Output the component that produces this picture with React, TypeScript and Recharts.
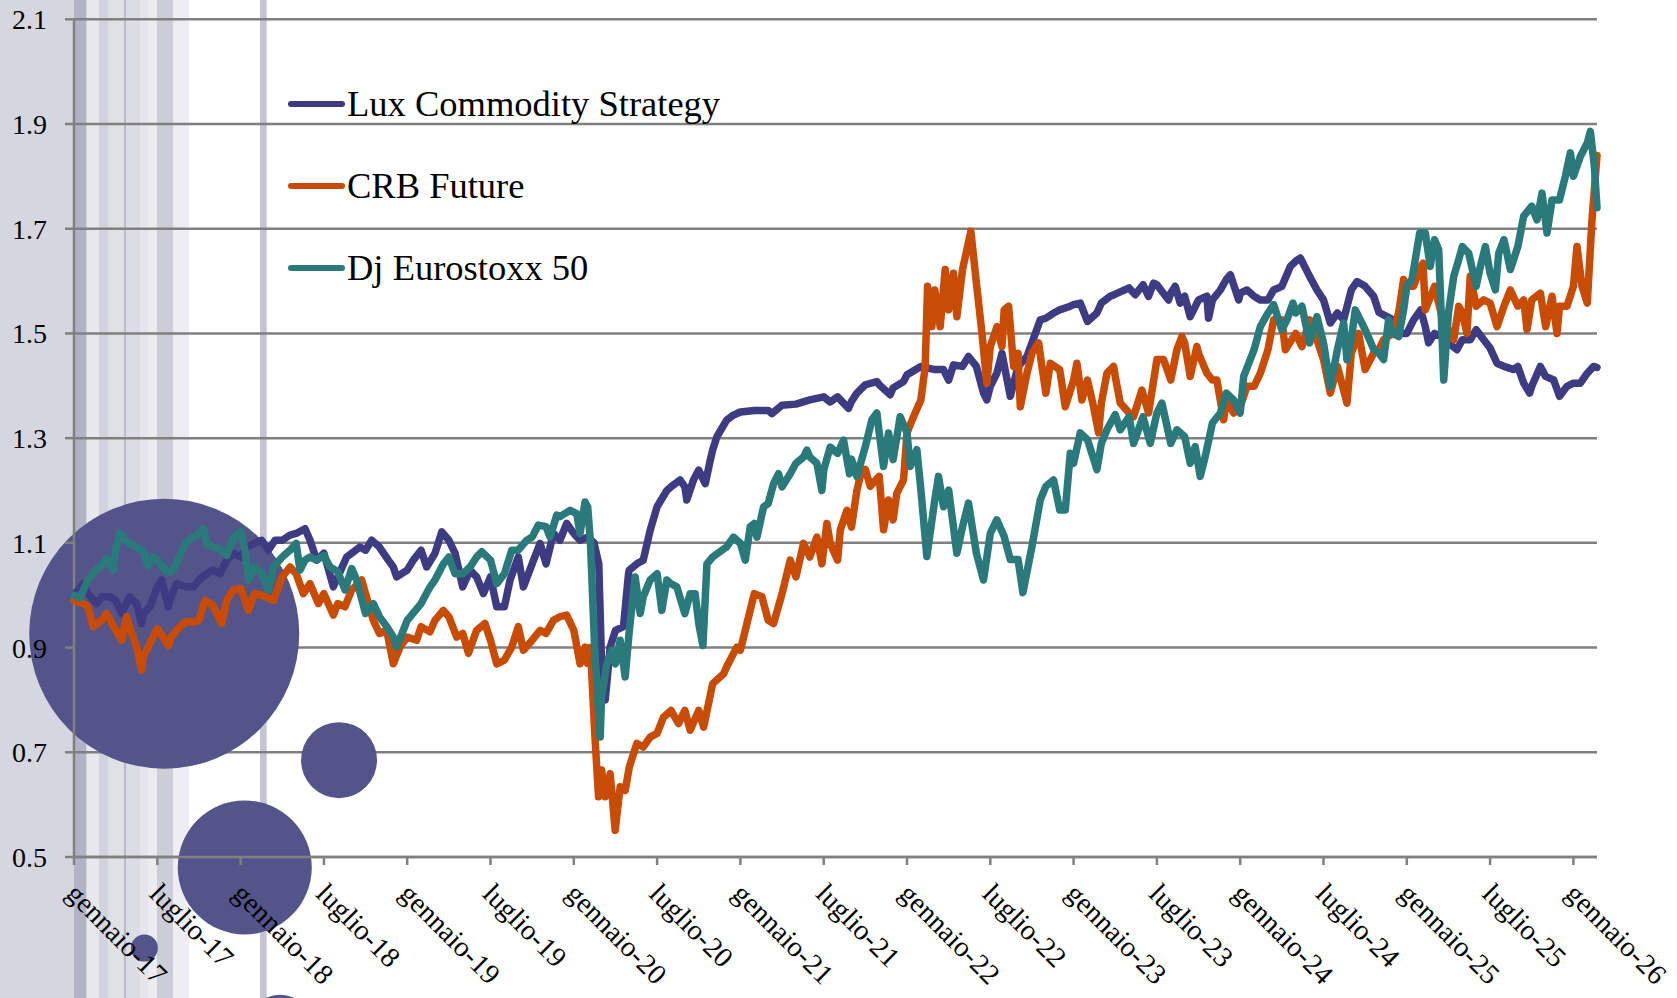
import React from 'react';
import {
  ComposedChart,
  Line,
  XAxis,
  YAxis,
  CartesianGrid,
  ReferenceArea,
  ReferenceDot,
  Legend,
} from 'recharts';

// ---------- DATA ----------
// x = months since gennaio-17
const tickMonths = [0, 6, 12, 18, 24, 30, 36, 42, 48, 54, 60, 66, 72, 78, 84, 90, 96, 102, 108];
const tickLabels = [
  'gennaio-17', 'luglio-17', 'gennaio-18', 'luglio-18', 'gennaio-19', 'luglio-19',
  'gennaio-20', 'luglio-20', 'gennaio-21', 'luglio-21', 'gennaio-22', 'luglio-22',
  'gennaio-23', 'luglio-23', 'gennaio-24', 'luglio-24', 'gennaio-25', 'luglio-25', 'gennaio-26',
];
const yTicks = [0.5, 0.7, 0.9, 1.1, 1.3, 1.5, 1.7, 1.9, 2.1];

const seriesNames = ['Lux Commodity Strategy', 'CRB Future', 'Dj Eurostoxx 50'];

const luxSeries: [number, number][] = [
  [0, 1.0], [0.67, 1.022], [1, 1.003], [1.63, 0.984], [2, 0.997], [2.59, 0.997], [3, 0.99], [3.43, 0.965],
  [4, 0.997], [4.51, 0.984], [4.87, 0.946], [5, 0.965], [5.47, 0.978], [6, 1.016], [6.31, 1.029], [6.79, 0.978],
  [7, 0.997], [7.39, 1.022], [8, 1.016], [8.6, 1.016], [9, 1.029], [9.56, 1.041], [10, 1.048], [10.52, 1.041],
  [11, 1.067], [11.48, 1.08], [12, 1.073], [12.44, 1.092], [13, 1.099], [13.52, 1.105], [14, 1.086], [14.48, 1.105],
  [15, 1.105], [15.56, 1.115], [16, 1.118], [16.64, 1.127], [17, 1.105], [17.48, 1.067], [18, 1.08], [18.68, 1.016],
  [19, 1.035], [19.64, 1.073], [20, 1.08], [20.6, 1.092], [21, 1.086], [21.44, 1.105], [22, 1.092], [22.64, 1.067],
  [23, 1.054], [23.24, 1.035], [24, 1.048], [24.44, 1.067], [25, 1.086], [25.4, 1.054], [26, 1.08], [26.49, 1.121],
  [27, 1.105], [27.45, 1.08], [28, 1.016], [28.53, 1.048], [29, 1.035], [29.49, 1.003], [30, 1.035], [30.45, 0.978],
  [31, 0.978], [31.41, 1.029], [32, 1.073], [32.37, 1.016], [33, 1.06], [33.57, 1.099], [34, 1.06], [34.53, 1.118],
  [35, 1.105], [35.49, 1.137], [36, 1.118], [36.45, 1.105], [37, 1.111], [37.45, 1.1], [37.8, 1.06], [38, 0.87],
  [38.26, 0.8], [38.62, 0.901], [39, 0.933], [39.58, 0.94], [39.94, 1.041], [40, 1.048], [40.54, 1.06], [41, 1.067],
  [41.5, 1.124], [42, 1.169], [42.7, 1.2], [43, 1.207], [43.66, 1.22], [44, 1.207], [44.14, 1.182], [44.62, 1.22],
  [45, 1.239], [45.47, 1.213], [45.83, 1.258], [46, 1.277], [46.31, 1.303], [47, 1.334], [47.5, 1.344], [48, 1.35],
  [49, 1.353], [50, 1.353], [50.27, 1.347], [51, 1.363], [52, 1.365], [53, 1.373], [54, 1.379], [54.47, 1.369],
  [55, 1.379], [55.79, 1.357], [56, 1.37], [56.39, 1.386], [57, 1.402], [57.83, 1.408], [58, 1.402], [58.79, 1.383],
  [59, 1.396], [59.75, 1.408], [60, 1.421], [61, 1.437], [62, 1.431], [62.63, 1.431], [63, 1.411], [63.35, 1.44],
  [64, 1.437], [64.43, 1.456], [65, 1.437], [65.51, 1.386], [65.75, 1.373], [66, 1.399], [66.47, 1.424], [66.84, 1.462],
  [67, 1.44], [67.44, 1.38], [68, 1.437], [68.64, 1.456], [69, 1.482], [69.6, 1.526], [70, 1.529], [70.56, 1.539],
  [71, 1.545], [71.76, 1.552], [72, 1.555], [72.48, 1.558], [73, 1.523], [73.68, 1.539], [74, 1.558], [74.64, 1.571],
  [75, 1.575], [76, 1.587], [76.44, 1.574], [77, 1.593], [77.4, 1.571], [77.76, 1.596], [78, 1.593], [78.84, 1.564],
  [79, 1.577], [79.32, 1.59], [79.68, 1.558], [80, 1.571], [80.4, 1.532], [81, 1.564], [81.6, 1.571], [81.72, 1.529],
  [82, 1.564], [82.57, 1.583], [83, 1.603], [83.29, 1.612], [83.89, 1.564], [84, 1.577], [84.49, 1.583], [85, 1.571],
  [85.45, 1.564], [86, 1.564], [86.41, 1.583], [87, 1.59], [87.61, 1.628], [88, 1.638], [88.33, 1.644], [89, 1.609],
  [89.53, 1.583], [90, 1.564], [90.49, 1.52], [91, 1.539], [91.45, 1.526], [92, 1.583], [92.41, 1.599], [93, 1.59],
  [93.61, 1.571], [94, 1.54], [94.57, 1.532], [95, 1.526], [95.53, 1.5], [96, 1.5], [96.49, 1.526], [97, 1.545],
  [97.33, 1.513], [97.57, 1.482], [98, 1.5], [98.53, 1.494], [99, 1.482], [99.61, 1.469], [100, 1.488], [100.57, 1.488],
  [101, 1.507], [101.54, 1.488], [102, 1.472], [102.5, 1.443], [103, 1.437], [103.7, 1.431], [104, 1.437], [104.42, 1.405],
  [104.85, 1.386], [105, 1.399], [105.62, 1.437], [106, 1.418], [106.58, 1.411], [107, 1.38], [107.54, 1.399], [108, 1.405],
  [108.5, 1.405], [109, 1.424], [109.46, 1.437], [109.7, 1.435],
];

const crbSeries: [number, number][] = [
  [0, 0.99], [0.67, 0.984], [1, 0.978], [1.39, 0.94], [2, 0.952], [2.35, 0.965], [3, 0.933], [3.43, 0.914],
  [3.79, 0.959], [4, 0.94], [4.51, 0.901], [4.87, 0.857], [5, 0.882], [5.47, 0.908], [6, 0.936], [6.43, 0.92],
  [6.79, 0.904], [7, 0.92], [7.39, 0.933], [8, 0.949], [8.6, 0.949], [9, 0.952], [9.44, 0.99], [10, 0.981],
  [10.64, 0.946], [11, 0.99], [11.48, 1.01], [12, 1.013], [12.56, 0.971], [13, 1.003], [13.52, 1.0], [14, 0.994],
  [14.36, 0.99], [15, 1.035], [15.56, 1.054], [16, 1.041], [16.52, 1.003], [17, 1.022], [17.6, 0.984], [18, 1.003],
  [18.68, 0.962], [19, 0.984], [19.52, 0.978], [20, 1.01], [20.72, 1.029], [21, 1.003], [21.56, 0.952], [22, 0.927],
  [22.52, 0.933], [23, 0.869], [23.48, 0.901], [24, 0.92], [24.68, 0.914], [25, 0.94], [25.64, 0.93], [26, 0.952],
  [26.6, 0.971], [27, 0.959], [27.57, 0.92], [28, 0.927], [28.41, 0.889], [29, 0.933], [29.6, 0.946], [30, 0.914],
  [30.45, 0.869], [31, 0.876], [31.53, 0.901], [32, 0.94], [32.37, 0.895], [33, 0.914], [33.57, 0.933], [34, 0.927],
  [34.53, 0.952], [35, 0.959], [35.49, 0.962], [36, 0.933], [36.45, 0.869], [36.81, 0.901], [37, 0.87], [37.2, 0.9],
  [37.5, 0.74], [37.78, 0.615], [38, 0.666], [38.26, 0.615], [38.62, 0.659], [38.98, 0.551], [39.34, 0.634], [39.7, 0.627],
  [40, 0.672], [40.54, 0.717], [41, 0.71], [41.5, 0.729], [42, 0.736], [42.46, 0.767], [43, 0.78], [43.54, 0.755],
  [44, 0.78], [44.38, 0.742], [45, 0.78], [45.35, 0.748], [46, 0.831], [46.79, 0.85], [47, 0.863], [47.75, 0.901],
  [48, 0.895], [48.47, 0.946], [49, 1.003], [49.55, 0.997], [50, 0.952], [50.39, 0.946], [51, 1.003], [51.59, 1.067],
  [52, 1.035], [52.55, 1.099], [53, 1.073], [53.51, 1.111], [53.87, 1.06], [54.23, 1.137], [54.47, 1.099], [55, 1.067],
  [55.19, 1.124], [55.67, 1.162], [56, 1.13], [56.39, 1.2], [56.63, 1.227], [57, 1.24], [57.35, 1.208], [58, 1.227],
  [58.31, 1.125], [58.67, 1.182], [59, 1.144], [59.27, 1.195], [59.75, 1.22], [60, 1.31], [60.47, 1.341], [61, 1.373],
  [61.31, 1.437], [61.48, 1.59], [61.79, 1.513], [62, 1.583], [62.39, 1.513], [62.75, 1.622], [63, 1.545], [63.35, 1.615],
  [63.59, 1.532], [64, 1.622], [64.31, 1.66], [64.6, 1.695], [65, 1.596], [65.4, 1.5], [65.75, 1.405], [66, 1.475],
  [66.48, 1.513], [66.84, 1.475], [67, 1.545], [67.32, 1.552], [67.68, 1.437], [68, 1.462], [68.16, 1.36], [68.64, 1.424],
  [69, 1.462], [69.48, 1.482], [69.72, 1.437], [70, 1.386], [70.32, 1.443], [71, 1.431], [71.4, 1.36], [72, 1.411],
  [72.24, 1.443], [72.6, 1.373], [73, 1.411], [73.44, 1.36], [73.8, 1.31], [74, 1.367], [74.4, 1.424], [74.88, 1.437],
  [75, 1.418], [75.36, 1.367], [76, 1.348], [76.32, 1.341], [76.92, 1.392], [77.4, 1.348], [78, 1.45], [78.48, 1.45],
  [79, 1.411], [79.44, 1.469], [79.8, 1.494], [80, 1.482], [80.4, 1.418], [80.88, 1.475], [81, 1.462], [81.6, 1.424],
  [82, 1.411], [82.32, 1.411], [82.81, 1.335], [83, 1.373], [83.53, 1.348], [84, 1.36], [84.49, 1.399], [85, 1.399],
  [85.45, 1.424], [86, 1.469], [86.41, 1.526], [87, 1.526], [87.25, 1.469], [88, 1.5], [88.45, 1.475], [89, 1.526],
  [89.53, 1.488], [90, 1.45], [90.49, 1.386], [91, 1.437], [91.69, 1.367], [92, 1.462], [92.53, 1.5], [93, 1.431],
  [93.61, 1.462], [94, 1.47], [94.33, 1.488], [95, 1.5], [95.41, 1.539], [95.77, 1.603], [96, 1.59], [96.49, 1.59],
  [97, 1.628], [97.17, 1.634], [97.33, 1.545], [98, 1.59], [98.53, 1.532], [99, 1.507], [99.38, 1.488], [99.74, 1.552],
  [100, 1.539], [100.33, 1.5], [100.57, 1.609], [101, 1.552], [101.54, 1.564], [102, 1.558], [102.5, 1.513], [103, 1.552],
  [103.46, 1.583], [104, 1.552], [104.42, 1.564], [104.66, 1.507], [105, 1.564], [105.62, 1.577], [106, 1.513], [106.46, 1.571],
  [106.82, 1.5], [107, 1.552], [107.54, 1.552], [108, 1.59], [108.26, 1.666], [108.62, 1.59], [109, 1.558], [109.34, 1.717],
  [109.7, 1.84],
];

const stoxxSeries: [number, number][] = [
  [0, 1.0], [0.43, 0.995], [1, 1.029], [1.63, 1.05], [2, 1.057], [2.35, 1.07], [2.83, 1.048], [3, 1.086],
  [3.31, 1.118], [3.67, 1.105], [4, 1.099], [4.51, 1.092], [5, 1.083], [5.35, 1.057], [5.71, 1.073], [6, 1.067],
  [6.67, 1.045], [7, 1.045], [7.39, 1.06], [8, 1.099], [8.6, 1.111], [9, 1.118], [9.32, 1.127], [9.56, 1.099],
  [10, 1.092], [10.52, 1.089], [11, 1.076], [11.48, 1.108], [12, 1.122], [12.32, 1.086], [12.56, 1.029], [13, 1.054],
  [13.52, 1.041], [14, 1.01], [14.36, 1.054], [15, 1.073], [15.56, 1.086], [16, 1.099], [16.28, 1.048], [16.64, 1.067],
  [17, 1.073], [17.48, 1.067], [18, 1.076], [18.44, 1.054], [19, 1.045], [19.52, 1.01], [20, 1.051], [20.36, 1.029],
  [21, 0.965], [21.56, 0.984], [22, 0.959], [22.53, 0.94], [23, 0.92], [23.24, 0.901], [24, 0.952], [25, 0.984],
  [25.65, 1.016], [26, 1.029], [26.61, 1.06], [27, 1.073], [27.45, 1.041], [28, 1.041], [28.53, 1.054], [29, 1.073],
  [29.37, 1.083], [30, 1.067], [30.45, 1.022], [31, 1.041], [31.53, 1.086], [32, 1.086], [32.61, 1.105], [33, 1.111],
  [33.45, 1.134], [34, 1.131], [34.29, 1.111], [34.77, 1.153], [35, 1.15], [35.73, 1.162], [36.21, 1.156], [36.45, 1.118],
  [36.81, 1.178], [37, 1.169], [37.2, 1.1], [37.5, 0.9], [37.9, 0.729], [38, 0.806], [38.38, 0.869], [38.74, 0.895],
  [39, 0.869], [39.34, 0.914], [39.7, 0.844], [40, 0.933], [40.42, 1.035], [40.78, 0.965], [41, 0.997], [41.5, 1.029],
  [42, 1.041], [42.34, 0.971], [42.7, 1.029], [43, 1.022], [43.42, 1.016], [44, 0.965], [44.38, 1.003], [44.74, 1.003],
  [45, 0.946], [45.3, 0.904], [45.59, 1.06], [46, 1.073], [47, 1.092], [47.5, 1.111], [48, 1.099], [48.35, 1.067],
  [48.71, 1.131], [49, 1.137], [49.19, 1.111], [49.67, 1.169], [50, 1.175], [50.39, 1.213], [50.75, 1.232], [51, 1.207],
  [51.59, 1.232], [52, 1.252], [52.55, 1.264], [52.79, 1.277], [53, 1.264], [53.51, 1.252], [53.87, 1.2], [54, 1.239],
  [54.47, 1.283], [55, 1.271], [55.43, 1.296], [55.86, 1.232], [56, 1.26], [56.39, 1.227], [57, 1.284], [57.47, 1.335],
  [57.83, 1.348], [58, 1.31], [58.31, 1.246], [58.67, 1.31], [59, 1.259], [59.51, 1.341], [60, 1.31], [60.23, 1.246],
  [60.71, 1.278], [61, 1.201], [61.43, 1.074], [62, 1.182], [62.27, 1.227], [62.63, 1.169], [63, 1.201], [63.59, 1.08],
  [64, 1.131], [64.43, 1.176], [65, 1.08], [65.51, 1.029], [66, 1.118], [66.47, 1.144], [67, 1.112], [67.44, 1.068],
  [68, 1.068], [68.35, 1.005], [69, 1.093], [69.6, 1.182], [70, 1.208], [70.56, 1.22], [71, 1.163], [71.4, 1.163],
  [71.76, 1.271], [72, 1.252], [72.48, 1.31], [73, 1.297], [73.68, 1.24], [74, 1.29], [74.4, 1.316], [75, 1.345],
  [75.36, 1.316], [76, 1.341], [76.32, 1.29], [77, 1.341], [77.52, 1.29], [78, 1.348], [78.36, 1.367], [79, 1.29],
  [79.44, 1.316], [80, 1.303], [80.4, 1.252], [80.76, 1.284], [81.12, 1.227], [81.48, 1.265], [82, 1.329], [82.57, 1.348],
  [83, 1.386], [83.53, 1.373], [84, 1.348], [84.25, 1.418], [85, 1.469], [85.45, 1.513], [86, 1.539], [86.41, 1.555],
  [87, 1.507], [87.37, 1.526], [87.8, 1.558], [88, 1.539], [88.45, 1.552], [89, 1.482], [89.53, 1.532], [90, 1.482],
  [90.49, 1.399], [91, 1.469], [91.45, 1.52], [91.69, 1.45], [92, 1.488], [92.29, 1.545], [93, 1.507], [93.61, 1.47],
  [94, 1.462], [94.33, 1.45], [94.69, 1.526], [95, 1.5], [95.41, 1.494], [95.77, 1.545], [96, 1.59], [96.37, 1.603],
  [96.61, 1.641], [96.93, 1.692], [97.33, 1.692], [97.69, 1.628], [98, 1.679], [98.3, 1.66], [98.66, 1.411], [99, 1.539],
  [99.38, 1.609], [99.74, 1.641], [100, 1.666], [100.46, 1.653], [101, 1.59], [101.3, 1.628], [101.66, 1.666], [102, 1.615],
  [102.38, 1.583], [102.62, 1.653], [103, 1.679], [103.46, 1.622], [104, 1.666], [104.42, 1.724], [105, 1.743], [105.38, 1.717],
  [105.74, 1.768], [106.1, 1.692], [106.46, 1.755], [107, 1.755], [107.42, 1.8], [107.78, 1.845], [108, 1.8], [108.5, 1.838],
  [109, 1.864], [109.22, 1.886], [109.51, 1.819], [109.7, 1.74],
];

// background bands (x ranges in months)
const bandStart = [-6, 0, 0.91, 1.8, 2.5, 3.6, 3.75, 4.75, 5.33, 5.98, 7.13, 13.4];
const bandEnd = [0, 0.91, 1.8, 2.5, 3.6, 3.75, 4.75, 5.33, 5.98, 7.13, 8.29, 13.88];

// bubbles (x in months, y in value)
const bubbleMonths = [6.5, 19.09, 12.3, 5.07, 14.84];
const bubbleValues = [0.9265, 0.685, 0.48, 0.326, 0.17];

// ---------- STYLES ----------
const bandFills = [
  '#d6d6e0', '#b3b3c6', '#e7e7ed', '#d3d3dd', '#e0e0e7', '#b9b9c9',
  '#dcdce4', '#e5e5eb', '#ececf0', '#cdcdd8', '#eeeef2', '#c4c4d3',
];
const bubbleRadii = [135, 38, 67, 13.5, 35];
const bubbleFill = '#535489';
const seriesColors = ['#3d3b82', '#c84c06', '#2a7a7b'];
const FONT = "'Liberation Serif', 'Times New Roman', serif";
const GRID = '#808080';

const toRows = (s: [number, number][]) => s.map(([m, v]) => ({ m, v }));
const luxData = toRows(luxSeries);
const crbData = toRows(crbSeries);
const stoxxData = toRows(stoxxSeries);

const renderLegend = (props: any) => {
  const payload: any[] = (props && props.payload) || [];
  const items = [...payload].sort(
    (a, b) => seriesNames.indexOf(a.value) - seriesNames.indexOf(b.value)
  );
  return (
    <div style={{ display: 'flex', flexDirection: 'column' }}>
      {items.map((entry) => (
        <div key={entry.value} style={{ display: 'flex', alignItems: 'center', height: 82 }}>
          <div style={{ width: 57, height: 6, borderRadius: 3, background: entry.color }} />
          <span
            style={{
              marginLeft: 2,
              fontSize: 36.5,
              fontFamily: FONT,
              color: '#000',
              lineHeight: 1,
              whiteSpace: 'nowrap',
            }}
          >
            {entry.value}
          </span>
        </div>
      ))}
    </div>
  );
};

export default function App() {
  const lineCommon = {
    type: 'linear' as const,
    dataKey: 'v',
    dot: false,
    activeDot: false,
    isAnimationActive: false,
    strokeWidth: 7.5,
    strokeLinejoin: 'round' as const,
    strokeLinecap: 'round' as const,
  };
  return (
    <div
      style={{
        position: 'absolute',
        left: 0,
        top: 0,
        width: 1677,
        height: 998,
        background: '#fff',
        fontFamily: FONT,
        overflow: 'hidden',
      }}
    >
      <ComposedChart width={1677} height={998} margin={{ top: 19.3, right: 80, bottom: 0, left: 0 }}>
        {bandStart.map((s, i) => (
          <ReferenceArea
            key={'band' + i}
            x1={s}
            x2={bandEnd[i]}
            y1={0.1}
            y2={2.3}
            ifOverflow="visible"
            fill={bandFills[i]}
            fillOpacity={1}
            stroke="none"
            zIndex={-200}
          />
        ))}
        <CartesianGrid vertical={false} stroke={GRID} strokeWidth={2.5} zIndex={-100} />
        {bubbleMonths.map((m, i) => (
          <ReferenceDot
            key={'bubble' + i}
            x={m}
            y={bubbleValues[i]}
            r={bubbleRadii[i]}
            fill={bubbleFill}
            stroke="none"
            ifOverflow="visible"
            zIndex={450}
          />
        ))}
        <XAxis
          dataKey="m"
          type="number"
          domain={[0, 109.7]}
          ticks={tickMonths}
          interval={0}
          height={141}
          tickSize={8}
          tickMargin={16}
          axisLine={{ stroke: GRID, strokeWidth: 2.5 }}
          tickLine={{ stroke: GRID, strokeWidth: 2.5 }}
          tick={{ fill: '#000', fontSize: 28.5, fontFamily: FONT, angle: 45, textAnchor: 'start', dx: 5 }}
          tickFormatter={(v: number) => tickLabels[tickMonths.indexOf(v)] ?? ''}
        />
        <YAxis
          type="number"
          domain={[0.5, 2.1]}
          ticks={yTicks}
          interval={0}
          width={74}
          tickSize={9}
          tickMargin={18}
          axisLine={{ stroke: GRID, strokeWidth: 2.5 }}
          tickLine={{ stroke: GRID, strokeWidth: 2.5 }}
          tick={{ fill: '#000', fontSize: 28, fontFamily: FONT }}
          tickFormatter={(v: number) => v.toFixed(1)}
        />
        <Line {...lineCommon} data={luxData} name={seriesNames[0]} stroke={seriesColors[0]} zIndex={600} />
        <Line {...lineCommon} data={crbData} name={seriesNames[1]} stroke={seriesColors[1]} zIndex={601} />
        <Line {...lineCommon} data={stoxxData} name={seriesNames[2]} stroke={seriesColors[2]} zIndex={602} />
        <Legend
          layout="vertical"
          align="center"
          verticalAlign="middle"
          wrapperStyle={{ left: 288, top: 63 }}
          content={renderLegend}
        />
      </ComposedChart>
    </div>
  );
}
